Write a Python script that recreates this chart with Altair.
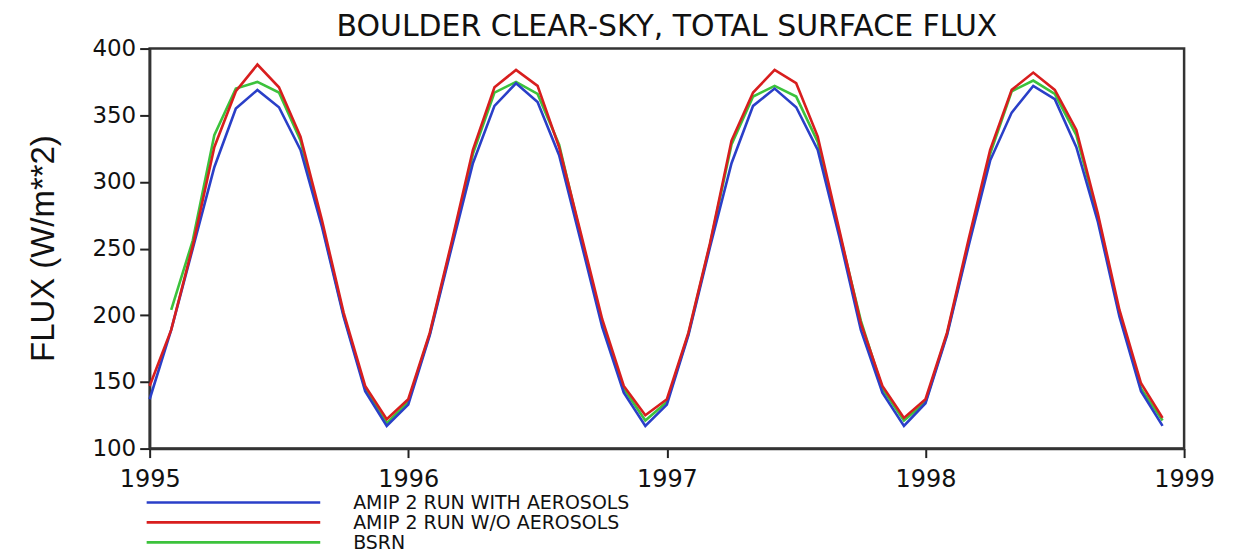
import altair as alt
import pandas as pd

series_names = ["AMIP 2 RUN WITH AEROSOLS", "AMIP 2 RUN W/O AEROSOLS", "BSRN"]
series_colors = ["#2a3fc8", "#d81e1e", "#3cc23c"]
years = [1995, 1996, 1997, 1998]

# monthly values Jan..Dec for each year
with_aerosols = [
    137, 189, 250, 311, 355, 369, 356, 324, 266, 199, 143, 117,
    133, 185, 250, 314, 357, 374, 360, 320, 256, 191, 142, 117,
    133, 185, 251, 314, 357, 370, 356, 324, 259, 189, 142, 117,
    134, 185, 252, 316, 352, 372, 362, 326, 270, 199, 143, 117,
]
without_aerosols = [
    147, 189, 252, 326, 368, 388, 371, 334, 271, 202, 147, 122,
    137, 187, 254, 324, 371, 384, 372, 326, 262, 197, 147, 125,
    137, 187, 254, 331, 367, 384, 374, 334, 264, 194, 147, 123,
    137, 187, 257, 324, 369, 382, 369, 339, 276, 204, 149, 123,
]
# BSRN starts in February 1995
bsrn = [
    None, 204, 256, 335, 370, 375, 367, 331, 268, 200, 145, 119,
    135, 186, 252, 321, 367, 375, 366, 328, 260, 194, 145, 121,
    135, 186, 253, 328, 364, 372, 364, 330, 262, 196, 145, 121,
    135, 186, 254, 321, 368, 376, 366, 335, 274, 201, 145, 121,
]

times = [y + m / 12 for y in years for m in range(12)]

rows = []
# drawing order: BSRN first, then with aerosols, then without aerosols on top
for name, vals in [(series_names[2], bsrn), (series_names[0], with_aerosols), (series_names[1], without_aerosols)]:
    for t, v in zip(times, vals):
        if v is not None:
            rows.append({"t": t, "flux": v, "series": name})
df = pd.DataFrame(rows)

FONT = "DejaVu Sans"

color_scale = alt.Scale(domain=series_names, range=series_colors)

lines = alt.Chart(df).mark_line(strokeWidth=2.6, interpolate="linear").encode(
    x=alt.X(
        "t:Q",
        scale=alt.Scale(domain=[1995, 1999], nice=False, zero=False),
        axis=alt.Axis(
            values=[1995, 1996, 1997, 1998, 1999],
            format="d",
            title=None,
            grid=False,
            labelFont=FONT,
            labelFontSize=24,
            labelColor="#111111",
            labelPadding=10,
            tickSize=9,
            tickWidth=2,
            tickColor="#222222",
            domainColor="#333333",
            domainWidth=2.5,
            labelFlush=False,
        ),
    ),
    y=alt.Y(
        "flux:Q",
        scale=alt.Scale(domain=[100, 400], nice=False, zero=False),
        axis=alt.Axis(
            values=[100, 150, 200, 250, 300, 350, 400],
            title="FLUX (W/m**2)",
            titleFont="Liberation Sans",
            titleFontSize=33,
            titleFontWeight="normal",
            titleColor="#111111",
            titleAngle=-90,
            titleX=-96,
            titleY=200,
            titleAlign="center",
            titleBaseline="alphabetic",
            grid=False,
            labelFont=FONT,
            labelFontSize=23,
            labelColor="#111111",
            labelPadding=4,
            tickSize=10,
            tickWidth=2,
            tickColor="#222222",
            domainColor="#333333",
            domainWidth=2.5,
        ),
    ),
    color=alt.Color("series:N", scale=color_scale, legend=None),
    detail="series:N",
)

legend_df = pd.DataFrame({"series": series_names})
legend_y = alt.Y(
    "series:N",
    scale=alt.Scale(type="point", domain=series_names, range=[455, 495], padding=0),
    axis=None,
)

legend_lines = alt.Chart(legend_df).mark_rule(strokeWidth=2.6).encode(
    x=alt.value(-3),
    x2=alt.value(171),
    y=legend_y,
    color=alt.Color("series:N", scale=color_scale, legend=None),
)

legend_text = alt.Chart(legend_df).mark_text(
    align="left", baseline="middle", font=FONT, fontSize=19, color="#111111", dy=1
).encode(
    x=alt.value(204),
    y=legend_y,
    text="series:N",
)

chart = alt.layer(lines, legend_lines, legend_text).resolve_scale(
    y="independent"
).properties(
    width=1037,
    height=401,
    title=alt.TitleParams(
        "BOULDER CLEAR-SKY, TOTAL SURFACE FLUX",
        font=FONT,
        fontSize=30,
        fontWeight="normal",
        color="#111111",
        anchor="middle",
        frame="group",
        offset=0,
        dy=4,
    ),
    autosize=alt.AutoSizeParams(type="none"),
    padding={"left": 142, "top": 40, "right": 44, "bottom": 104},
).configure(
    background="white",
    view=alt.ViewConfig(stroke="#333333", strokeWidth=2.5),
)

chart.save("out.html", embed_options={"renderer": "svg", "actions": False})
